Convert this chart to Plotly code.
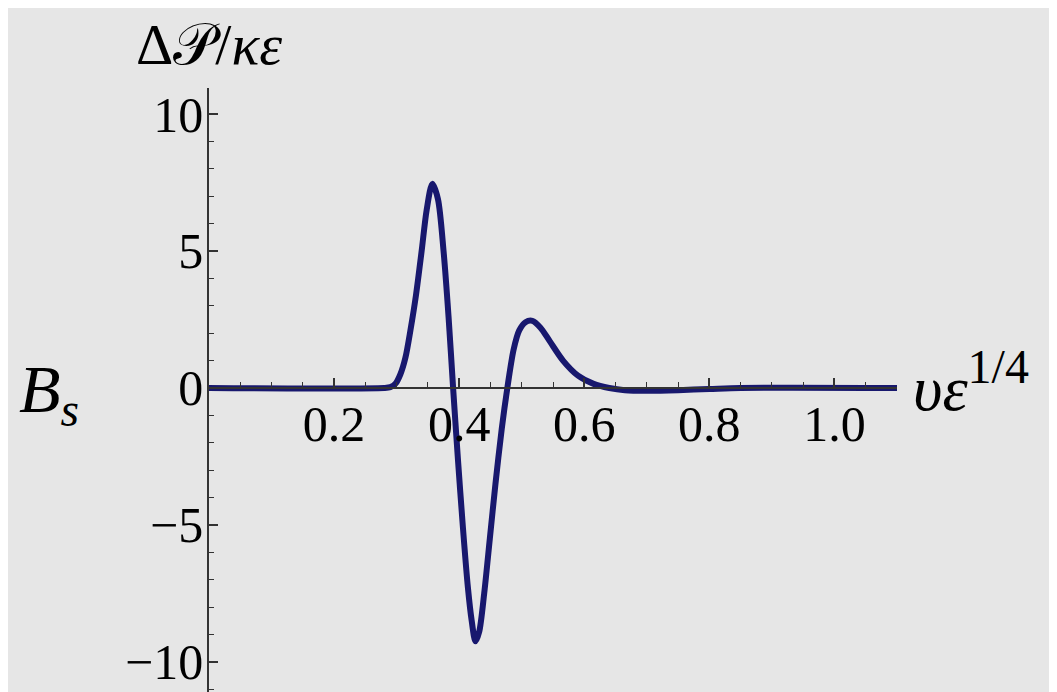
import plotly.graph_objects as go

# Curve
x_vals = [0, 0.28, 0.290, 0.298, 0.306, 0.314, 0.322, 0.331, 0.340, 0.348, 0.357,
          0.366, 0.375, 0.383, 0.390, 0.398, 0.406, 0.414, 0.420, 0.426, 0.432,
          0.440, 0.449, 0.458, 0.468, 0.477, 0.487, 0.496, 0.506, 0.517, 0.530,
          0.545, 0.566, 0.590, 0.615, 0.640, 0.665, 0.70, 0.75, 0.80, 0.85, 1.1]
y_vals = [0, 0, 0.03, 0.15, 0.5, 1.1, 2.1, 3.4, 5.0, 6.5, 7.45,
          6.9, 5.0, 2.6, 0.1, -2.6, -5.1, -7.3, -8.5, -9.25, -8.9,
          -7.5, -5.5, -3.5, -1.5, 0.0, 1.4, 2.1, 2.4, 2.45, 2.2,
          1.7, 1.0, 0.45, 0.15, 0.0, -0.08, -0.1, -0.08, -0.04, 0, 0]

x_ticks = [0.2, 0.4, 0.6, 0.8, 1.0]
x_tick_text = ["0.2", "0.4", "0.6", "0.8", "1.0"]
y_ticks = [-10, -5, 0, 5, 10]
y_tick_text = ["\u221210", "\u22125", "0", "5", "10"]

x_range = [0, 1.1]
y_range = [-11.1, 10.95]

BG = "#e6e6e6"
CURVE = "#18186e"
AXIS = "#333333"
FONT = "Liberation Serif"
FS = 50

fig = go.Figure()
fig.add_trace(go.Scatter(x=x_vals, y=y_vals, mode="lines",
                         line=dict(color=CURVE, width=6, shape="spline", smoothing=0.8),
                         showlegend=False, hoverinfo="skip"))

xpos = (0 - y_range[0]) / (y_range[1] - y_range[0])

fig.update_layout(
    width=1057, height=692,
    margin=dict(l=201, r=168, t=80, b=8),
    paper_bgcolor=BG, plot_bgcolor=BG,
    font=dict(family=FONT, size=FS, color="black"),
    xaxis=dict(range=x_range, anchor="free", position=xpos, showgrid=False, zeroline=False,
               showline=True, linecolor=AXIS, linewidth=1.5,
               tickmode="array", tickvals=x_ticks, ticktext=x_tick_text,
               ticks="inside", ticklen=9, tickwidth=1.5, tickcolor=AXIS,
               ticklabelstandoff=-8,
               minor=dict(dtick=0.05, tick0=0, ticks="inside", ticklen=5, tickwidth=1.2,
                          tickcolor=AXIS, showgrid=False),
               tickfont=dict(family=FONT, size=FS, color="black")),
    yaxis=dict(range=y_range, showgrid=False, zeroline=False,
               showline=True, linecolor=AXIS, linewidth=1.5,
               tickmode="array", tickvals=y_ticks, ticktext=y_tick_text,
               ticks="inside", ticklen=9, tickwidth=1.5, tickcolor=AXIS,
               ticklabelstandoff=-6,
               minor=dict(dtick=1, tick0=0, ticks="inside", ticklen=5, tickwidth=1.2,
                          tickcolor=AXIS, showgrid=False),
               tickfont=dict(family=FONT, size=FS, color="black")),
)

fig.add_annotation(text="\u0394\U0001D4AB/<i>\u03ba\u03b5</i>", xref="x", yref="paper",
                   x=0, y=1.0728, xanchor="center", yanchor="middle", showarrow=False,
                   font=dict(family=FONT, size=58, color="black"))
fig.add_annotation(text="<i>\u03c5\u03b5</i><sup><span style=\"font-size:48px\">1/4</span></sup>",
                   xref="x", yref="y",
                   x=x_range[1], y=0, xanchor="left", yanchor="middle", xshift=14, yshift=6,
                   showarrow=False, font=dict(family=FONT, size=64, color="black"))
fig.add_annotation(text="<i>B</i><sub><i>s</i></sub>", xref="paper", yref="y",
                   x=-0.232, y=0, xanchor="center", yanchor="middle", yshift=-6,
                   showarrow=False, font=dict(family=FONT, size=68, color="black"))

fig.write_html("out.html")
